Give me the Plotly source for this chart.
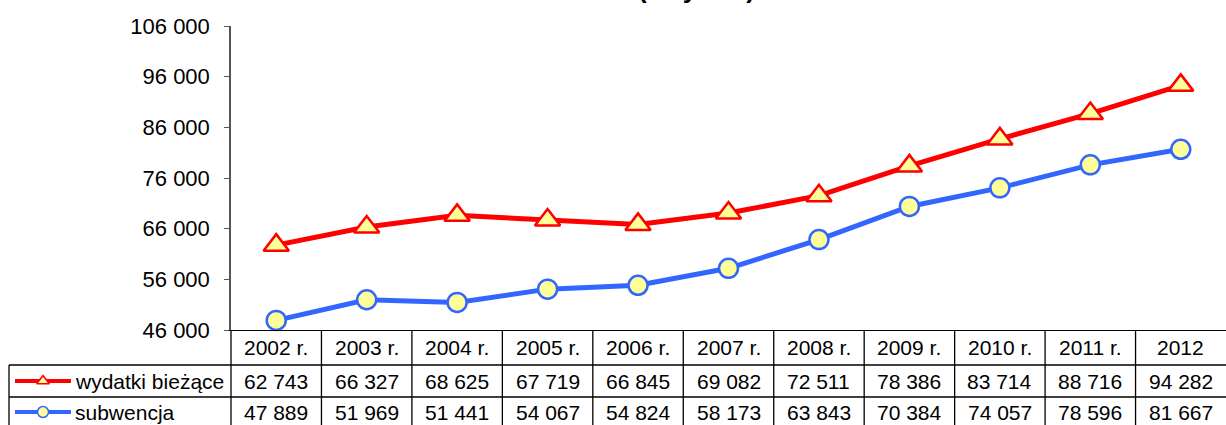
import plotly.graph_objects as go

# Table / chart data
years = ["2002 r.", "2003 r.", "2004 r.", "2005 r.", "2006 r.", "2007 r.",
         "2008 r.", "2009 r.", "2010 r.", "2011 r.", "2012"]
wydatki = [62743, 66327, 68625, 67719, 66845, 69082, 72511, 78386, 83714, 88716, 94282]
subwencja = [47889, 51969, 51441, 54067, 54824, 58173, 63843, 70384, 74057, 78596, 81667]
series_names = ["wydatki bieżące", "subwencja"]

W, H = 1226, 425
FONT = "Liberation Sans, Arial, sans-serif"
RED = "#FF0000"
BLUE = "#3366FF"
FILL = "#FFFF99"
TXT = 21


def px(x):
    return x / W


def py(y):
    return 1 - y / H


def fmt(v):
    return f"{v:,}".replace(",", " ")


# layout geometry (pixels)
PLOT_L, PLOT_T, PLOT_B = 231, 26, 330
ROW1, ROW2, ROW_END = 365, 397, 428
HDR_Y, R1_Y, R2_Y = 347, 381, 412

idx = list(range(len(years)))

fig = go.Figure()

fig.add_trace(go.Scatter(
    x=idx, y=wydatki, name=series_names[0], mode="lines+markers",
    line=dict(color=RED, width=5),
    marker=dict(symbol="triangle-up", size=22, color=FILL,
                line=dict(color=RED, width=2.5)),
    xaxis="x", yaxis="y", showlegend=False, cliponaxis=False))

fig.add_trace(go.Scatter(
    x=idx, y=subwencja, name=series_names[1], mode="lines+markers",
    line=dict(color=BLUE, width=5),
    marker=dict(symbol="circle", size=19, color=FILL,
                line=dict(color=BLUE, width=2.5)),
    xaxis="x", yaxis="y", showlegend=False, cliponaxis=False))

# legend keys inside the table's first column (pixel-like helper axes)
fig.add_trace(go.Scatter(
    x=[15, 43, 71], y=[H - R1_Y] * 3, mode="lines",
    line=dict(color=RED, width=4), xaxis="x2", yaxis="y2",
    showlegend=False, hoverinfo="skip"))
fig.add_trace(go.Scatter(
    x=[43], y=[H - R1_Y], mode="markers",
    marker=dict(symbol="triangle-up", size=11, color=FILL,
                line=dict(color=RED, width=1.5)),
    xaxis="x2", yaxis="y2", showlegend=False, hoverinfo="skip"))
fig.add_trace(go.Scatter(
    x=[15, 43, 71], y=[H - R2_Y] * 3, mode="lines",
    line=dict(color=BLUE, width=4), xaxis="x2", yaxis="y2",
    showlegend=False, hoverinfo="skip"))
fig.add_trace(go.Scatter(
    x=[43], y=[H - R2_Y], mode="markers",
    marker=dict(symbol="circle", size=11, color=FILL,
                line=dict(color=BLUE, width=1.5)),
    xaxis="x2", yaxis="y2", showlegend=False, hoverinfo="skip"))

annotations = []
cell_font = dict(size=TXT, color="#000", family=FONT)
# column headers and values
for i, yr in enumerate(years):
    for txt, yy in [(yr, HDR_Y), (fmt(wydatki[i]), R1_Y), (fmt(subwencja[i]), R2_Y)]:
        annotations.append(dict(x=i, y=py(yy), xref="x", yref="paper",
                                text=txt, showarrow=False,
                                xanchor="center", yanchor="middle",
                                font=cell_font))

for name, yy in zip(series_names, [R1_Y, R2_Y]):
    annotations.append(dict(x=px(73), y=py(yy), xref="paper", yref="paper",
                            text=name, showarrow=False,
                            xanchor="left", yanchor="middle", font=cell_font))

# title (second line, mostly above the visible area)
annotations.append(dict(x=px(697), y=py(-11), xref="paper", yref="paper",
                        text="<b>(w tys. zł)</b>", showarrow=False,
                        xanchor="center", yanchor="middle",
                        font=dict(size=26, color="#000", family=FONT)))

line_style = dict(color="#000", width=1.3)
shapes = []
for yy in [ROW1, ROW2, ROW_END]:
    shapes.append(dict(type="line", xref="paper", yref="paper",
                       x0=px(9), x1=1, y0=py(yy), y1=py(yy), line=line_style))
shapes.append(dict(type="line", xref="paper", yref="paper",
                   x0=px(9), x1=px(9), y0=py(ROW1), y1=py(ROW_END), line=line_style))
shapes.append(dict(type="line", xref="paper", yref="paper",
                   x0=px(PLOT_L), x1=px(PLOT_L), y0=py(PLOT_B), y1=py(ROW_END),
                   line=line_style))
for i in range(len(years) - 1):
    shapes.append(dict(type="line", xref="x", yref="paper",
                       x0=i + 0.5, x1=i + 0.5, y0=py(PLOT_B), y1=py(ROW_END),
                       line=line_style))

fig.update_layout(
    width=W, height=H,
    margin=dict(l=0, r=0, t=0, b=0, autoexpand=False),
    paper_bgcolor="white", plot_bgcolor="white",
    separators=", ",
    font=dict(family=FONT, color="#000"),
    xaxis=dict(domain=[px(PLOT_L), 1], range=[-0.5, len(years) - 0.5],
               showticklabels=False, ticks="", showgrid=False, zeroline=False,
               showline=True, linecolor="#000", linewidth=1.3,
               automargin=False),
    yaxis=dict(domain=[py(PLOT_B), py(PLOT_T)], range=[46000, 106000],
               dtick=10000, tick0=46000, tickformat=",d",
               showgrid=False, zeroline=False,
               showline=True, linecolor="#555", linewidth=1.5,
               ticks="outside", ticklen=5, tickcolor="#555", tickwidth=1.3,
               ticklabelstandoff=10, automargin=False,
               tickfont=dict(size=22, color="#000", family=FONT)),
    xaxis2=dict(domain=[0, px(PLOT_L)], range=[0, PLOT_L], visible=False,
                anchor="y2", automargin=False),
    yaxis2=dict(domain=[0, py(PLOT_B)], range=[0, H - PLOT_B], visible=False,
                anchor="x2", automargin=False),
    annotations=annotations,
    shapes=shapes,
)

fig.write_html("out.html")
